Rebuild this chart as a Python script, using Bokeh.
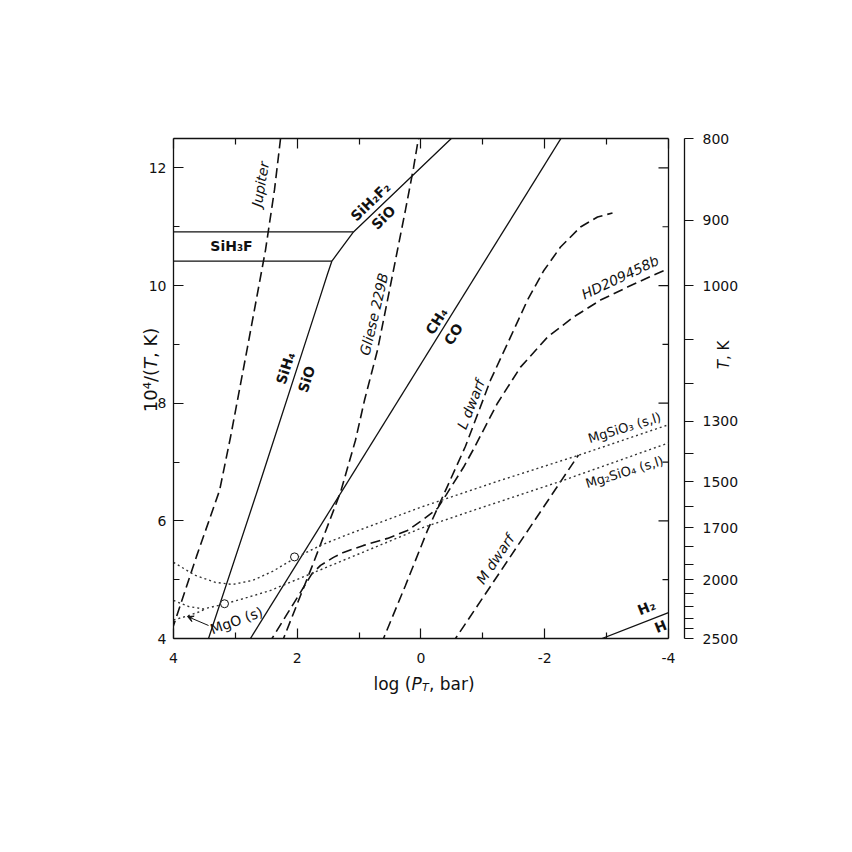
import math
from bokeh.plotting import figure
from bokeh.models import (ColumnDataSource, Range1d, LinearAxis, FixedTicker,
                          Label, Arrow, VeeHead, CustomJSTickFormatter)
from bokeh.core.properties import value
from bokeh.embed import file_html
from bokeh.resources import INLINE

# ---------------- axis ticks ----------------
x_major = [4, 2, 0, -2, -4]
x_minor = [3, 1, -1, -3]
y_major = [4, 6, 8, 10, 12]
y_minor = [5, 7, 9, 11]
T_ticks = list(range(800, 2600, 100))
T_labeled = [800, 900, 1000, 1300, 1500, 1700, 2000, 2500]

# ---------------- curves (x = log P_T, y = 10^4/T) ----------------
jupiter_x = [4.10, 4.00, 3.628, 3.255, 3.079, 2.804, 2.513, 2.368, 2.27]
jupiter_y = [3.90, 4.22, 5.396, 6.519, 7.421, 8.953, 10.604, 11.626, 12.5]

gliese_x = [2.26, 2.222, 1.754, 1.301, 1.059, 0.913, 0.703, 0.541, 0.380, 0.251, 0.121, 0.040]
gliese_y = [3.90, 4.0, 5.243, 6.485, 7.370, 8.051, 8.902, 9.753, 10.604, 11.285, 12.0, 12.51]

ldwarf_x = [0.645, 0.606, 0.251, -0.105, -0.412, -0.719, -1.123, -1.446, -1.721,
            -1.980, -2.255, -2.578, -2.853, -3.095]
ldwarf_y = [3.90, 4.0, 4.902, 5.838, 6.553, 7.268, 8.391, 9.123, 9.753,
            10.247, 10.655, 10.996, 11.166, 11.234]

hd_x = [2.467, 2.408, 2.158, 1.899, 1.770, 1.624, 1.414, 1.253, 0.929, 0.541, 0.218,
        -0.040, -0.267, -0.412, -0.687, -0.848, -1.236, -1.608, -2.044, -2.465,
        -2.901, -3.337, -3.758, -4.0]
hd_y = [3.90, 4.0, 4.426, 4.868, 5.089, 5.243, 5.379, 5.464, 5.583, 5.702, 5.838,
        6.026, 6.213, 6.451, 6.911, 7.217, 8.0, 8.613, 9.123, 9.464,
        9.753, 9.974, 10.179, 10.289]

mdwarf_x = [-0.495, -0.558, -2.545]
mdwarf_y = [3.90, 4.0, 7.12]

sih4_x = [3.465, 3.434, 2.642, 1.657, 1.511, 1.44, 1.091, -0.49]
sih4_y = [3.90, 4.0, 6.519, 9.719, 10.196, 10.417, 10.911, 12.5]

sih3f_upper_x = [4.0, 1.091]
sih3f_upper_y = [10.911, 10.911]
sih3f_lower_x = [4.0, 1.44]
sih3f_lower_y = [10.417, 10.417]

ch4_x = [2.815, -2.32]
ch4_y = [3.90, 12.6]

h2_x = [-2.925, -4.0]
h2_y = [4.0, 4.44]

mgsio3_x = [4.0, 3.644, 3.321, 3.046, 2.723, 2.400, 2.044, 1.624, 1.139, 0.008,
            -1.285, -2.545, -4.0]
mgsio3_y = [5.294, 5.072, 4.953, 4.919, 4.987, 5.140, 5.362, 5.583, 5.787, 6.230,
            6.689, 7.115, 7.634]

mg2sio4_x = [4.0, 3.758, 3.515, 3.176, 2.804, 2.432, 1.786, 1.139, 0.008, -0.800,
             -2.255, -4.0]
mg2sio4_y = [4.647, 4.545, 4.502, 4.587, 4.698, 4.817, 5.098, 5.379, 5.872, 6.162,
             6.672, 7.324]

mgo_x = [4.0, 3.774, 3.564, 3.50]
mgo_y = [4.315, 4.383, 4.460, 4.50]

circle_x = [2.044, 3.176]
circle_y = [5.387, 4.591]

# MgO label arrow (tail -> head)
arrow_x = [3.434, 3.774]
arrow_y = [4.221, 4.374]

# ---------------- in-plot labels ----------------
bold_text = ["SiH\u2083F", "SiH\u2082F\u2082", "SiO", "SiH\u2084", "SiO", "CH\u2084", "CO", "H\u2082", "H"]
bold_x = [3.063, 0.816, 0.606, 2.190, 1.850, -0.251, -0.525, -3.644, -3.871]
bold_y = [10.672, 11.426, 11.157, 8.596, 8.409, 9.396, 9.174, 4.528, 4.204]
bold_angle = [0, 0.77, 0.77, 1.26, 1.26, 1.01, 1.01, 0.38, 0.38]

ital_text = ["Jupiter", "Gliese 229B", "L dwarf", "HD209458b", "M dwarf"]
ital_x = [2.595, 0.758, -0.806, -3.219, -1.199]
ital_y = [11.722, 9.513, 7.981, 10.140, 5.349]
ital_angle = [1.40, 1.34, 1.19, 0.44, 0.98]

reg_text = ["MgSiO\u2083 (s,l)", "Mg\u2082SiO\u2084 (s,l)"]
reg_x = [-3.289, -3.289]
reg_y = [7.583, 6.83]
reg_angle = [0.30, 0.30]

mgo_text = ["MgO (s)"]
mgo_lx = [2.982]
mgo_ly = [4.306]
mgo_angle = [0.35]

FONT = "DejaVu Sans"
INK = "#111111"

p = figure(width=836, height=836, output_backend="svg", toolbar_location=None,
           x_range=Range1d(4, -4.2586), y_range=Range1d(4, 12.5),
           min_border_left=173, min_border_right=152, min_border_top=138,
           min_border_bottom=198, outline_line_color=None,
           background_fill_color="white", border_fill_color="white")
p.grid.visible = False


def style_axis(ax):
    ax.axis_line_color = INK
    ax.axis_line_width = 1.3
    ax.major_tick_line_color = INK
    ax.major_tick_line_width = 1.2
    ax.minor_tick_line_color = INK
    ax.minor_tick_line_width = 1.2
    ax.major_tick_in = 10
    ax.major_tick_out = 0
    ax.minor_tick_in = 6
    ax.minor_tick_out = 0
    ax.major_label_text_font = FONT
    ax.major_label_text_font_size = "14px"
    ax.major_label_text_color = INK


xb = p.xaxis[0]
style_axis(xb)
xb.ticker = FixedTicker(ticks=x_major, minor_ticks=x_minor)
xb.formatter = CustomJSTickFormatter(code="return String(tick)")
xb.bounds = (-4, 4)
xb.major_label_standoff = 14

xt = LinearAxis()
style_axis(xt)
xt.ticker = FixedTicker(ticks=x_major, minor_ticks=x_minor)
xt.formatter = CustomJSTickFormatter(code="return ''")
xt.bounds = (-4, 4)
p.add_layout(xt, "above")

yl = p.yaxis[0]
style_axis(yl)
yl.ticker = FixedTicker(ticks=y_major, minor_ticks=y_minor)
yl.formatter = CustomJSTickFormatter(code="return String(tick)")
yl.major_label_standoff = 7

ta = LinearAxis()
style_axis(ta)
ta.ticker = FixedTicker(ticks=[1e4 / T for T in T_ticks])
ta.formatter = CustomJSTickFormatter(
    args=dict(labs=T_labeled),
    code="const T = Math.round(10000/tick); return labs.includes(T) ? String(T) : '';")
ta.major_tick_in = 0
ta.major_tick_out = 9
ta.minor_tick_in = 0
ta.minor_tick_out = 0
ta.major_label_standoff = 9
p.add_layout(ta, "right")

# right edge of the frame box and its inward ticks
p.segment(x0=[-4], y0=[4], x1=[-4], y1=[12.5], line_color=INK, line_width=1.3)
p.segment(x0=[-4] * len(y_major), y0=y_major, x1=[-4 + 10 / 61.875] * len(y_major), y1=y_major,
          line_color=INK, line_width=1.2)
p.segment(x0=[-4] * len(y_minor), y0=y_minor, x1=[-4 + 6 / 61.875] * len(y_minor), y1=y_minor,
          line_color=INK, line_width=1.2)

# solid boundaries
for xs, ys in [(sih4_x, sih4_y), (sih3f_upper_x, sih3f_upper_y),
               (sih3f_lower_x, sih3f_lower_y), (ch4_x, ch4_y), (h2_x, h2_y)]:
    p.line(xs, ys, line_color=INK, line_width=1.3)

# dashed profiles
for xs, ys in [(jupiter_x, jupiter_y), (gliese_x, gliese_y), (ldwarf_x, ldwarf_y),
               (hd_x, hd_y), (mdwarf_x, mdwarf_y)]:
    p.line(xs, ys, line_color=INK, line_width=1.6, line_dash="10 5")

# dotted condensation curves
for xs, ys in [(mgsio3_x, mgsio3_y), (mg2sio4_x, mg2sio4_y), (mgo_x, mgo_y)]:
    p.line(xs, ys, line_color="#333333", line_width=1.4, line_dash="2 3")

p.scatter(circle_x, circle_y, marker="circle", size=8, fill_color="white",
          line_color=INK, line_width=1)

p.add_layout(Arrow(end=VeeHead(size=6, line_color=INK, fill_color=INK, line_width=1),
                   x_start=arrow_x[0], y_start=arrow_y[0], x_end=arrow_x[1], y_end=arrow_y[1],
                   line_color=INK, line_width=1))


def add_text(txt, xs, ys, angs, style, size):
    src = ColumnDataSource(dict(x=xs, y=ys, text=txt, angle=angs))
    p.text(x="x", y="y", text="text", angle="angle", source=src,
           text_font=value(FONT), text_font_style=style, text_font_size=size,
           text_align="center", text_baseline="middle", text_color=INK)


add_text(bold_text, bold_x, bold_y, bold_angle, "bold", "14px")
add_text(ital_text, ital_x, ital_y, ital_angle, "italic", "14px")
add_text(reg_text, reg_x, reg_y, reg_angle, "normal", "13px")
add_text(mgo_text, mgo_lx, mgo_ly, mgo_angle, "normal", "14px")


# axis titles assembled from pieces, placed in the side panels (not clipped)
def piece(side, x, y, t, size, style="normal", angle=0.0):
    p.add_layout(Label(x=x, y=y, text=t, text_font=FONT, text_font_size=size,
                       text_font_style=style, text_align="left",
                       text_baseline="alphabetic", angle=angle, text_color=INK), side)


# bottom: log (P_T, bar)
piece("below", 0.768, 3.234, "log (", "17px")
piece("below", 0.153, 3.234, "P", "17px", "italic")
piece("below", -0.016, 3.166, "T", "11px", "italic")
piece("below", -0.129, 3.234, ", bar)", "17px")

# left: 10^4/(T, K)
piece("left", 4.375, 7.847, "10\u2074/(", "18px", angle=math.pi / 2)
piece("left", 4.375, 8.582, "T", "18px", "italic", angle=math.pi / 2)
piece("left", 4.375, 8.769, ", K)", "18px", angle=math.pi / 2)

# right: T, K
piece("right", -4.905, 8.579, "T", "15px", "italic", angle=math.pi / 2)
piece("right", -4.905, 8.736, ", K", "15px", angle=math.pi / 2)

open("out.html", "w").write(file_html(p, INLINE, title="Equilibrium chemistry diagram"))
